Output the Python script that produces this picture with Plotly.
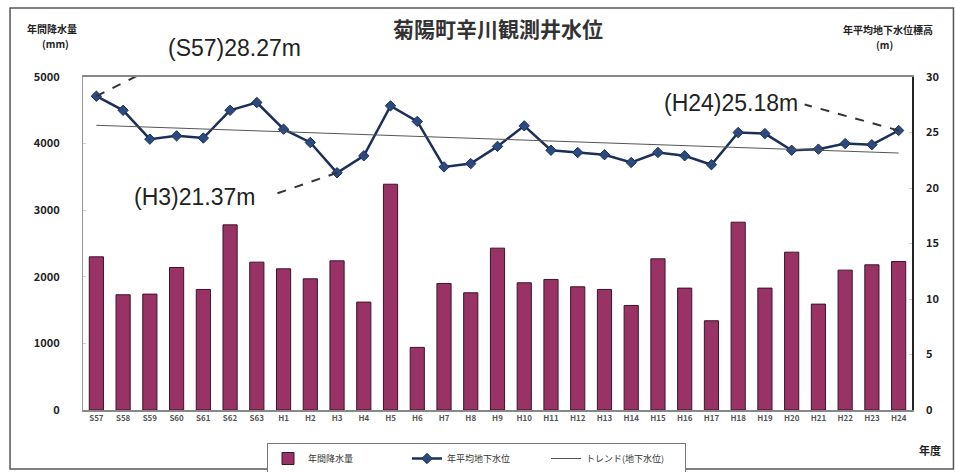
import plotly.graph_objects as go

categories = ["S57", "S58", "S59", "S60", "S61", "S62", "S63",
              "H1", "H2", "H3", "H4", "H5", "H6", "H7", "H8", "H9",
              "H10", "H11", "H12", "H13", "H14", "H15", "H16", "H17",
              "H18", "H19", "H20", "H21", "H22", "H23", "H24"]

rainfall_mm = [2300, 1730, 1740, 2140, 1810, 2780, 2220,
               2120, 1970, 2240, 1620, 3390, 940, 1900, 1760, 2430,
               1910, 1960, 1850, 1810, 1570, 2270, 1830, 1340,
               2820, 1830, 2370, 1590, 2100, 2180, 2230]

groundwater_m = [28.27, 27.0, 24.4, 24.7, 24.5, 27.0, 27.7,
                 25.3, 24.1, 21.37, 22.9, 27.4, 26.0, 21.9, 22.2, 23.75,
                 25.6, 23.4, 23.2, 23.0, 22.3, 23.2, 22.9, 22.1,
                 25.0, 24.9, 23.4, 23.5, 24.0, 23.9, 25.18]

trend_x = ["S57", "H24"]
trend_m = [25.65, 23.15]

left_ticks = [0, 1000, 2000, 3000, 4000, 5000]
right_ticks = [0, 5, 10, 15, 20, 25, 30]

callouts = [
    # category, value, label, text xshift, text yshift, anchor, line dx, line dy
    ("S57", 28.27, "(S57)28.27m", 70, 48, "left", 64, 32),
    ("H3", 21.37, "(H3)21.37m", -80, -24, "right", -67, -23),
    ("H24", 25.18, "(H24)25.18m", -99, 28, "right", -94, 26),
]

JP = "Noto Sans CJK JP"

fig = go.Figure()
fig.add_trace(go.Bar(
    x=categories, y=rainfall_mm, name="年間降水量",
    marker=dict(color="#993366", line=dict(color="#3a1428", width=1)),
    yaxis="y",
))
fig.add_trace(go.Scatter(
    x=categories, y=groundwater_m, name="年平均地下水位", mode="lines+markers",
    line=dict(color="#1c2f5a", width=2.5),
    marker=dict(symbol="diamond", size=8, color="#2a4a80", line=dict(color="#1c2f5a", width=1)),
    yaxis="y2",
))
fig.add_trace(go.Scatter(
    x=trend_x, y=trend_m, name="トレンド(地下水位)", mode="lines",
    line=dict(color="#555555", width=1),
    yaxis="y2",
))

shapes = [
    dict(type="rect", xref="paper", yref="paper", x0=-0.088, x1=1.05, y0=-0.177, y1=1.207,
         line=dict(color="#555555", width=1.5), layer="below"),
]
annotations = []
for cat, val, label, tx, ty, anchor, dx, dy in callouts:
    shapes.append(dict(
        type="line", xref="x", yref="y2",
        xsizemode="pixel", xanchor=cat, x0=0, x1=dx,
        ysizemode="pixel", yanchor=val, y0=0, y1=dy,
        line=dict(color="#333333", width=2, dash="dash"),
    ))
    annotations.append(dict(
        x=cat, y=val, xref="x", yref="y2", text=label, showarrow=False,
        xshift=tx, yshift=ty, xanchor=anchor, yanchor="middle",
        font=dict(family="Liberation Sans, Arial", size=23, color="#222222"),
    ))

def paper_x(px):
    return (px - 83) / 829

def paper_y(py):
    return (410 - py) / 333

title_font = dict(family=JP, size=10, color="#222222", weight="bold")
annotations += [
    dict(xref="paper", yref="paper", x=0.5, y=paper_y(28), text="菊陽町辛川観測井水位",
         showarrow=False, xanchor="center", yanchor="middle",
         font=dict(family=JP, size=21, color="#333333", weight="bold")),
    dict(xref="paper", yref="paper", x=paper_x(52), y=paper_y(28),
         text="年間降水量", showarrow=False, xanchor="center", yanchor="middle", font=title_font),
    dict(xref="paper", yref="paper", x=paper_x(55), y=paper_y(43),
         text="(mm)", showarrow=False, xanchor="center", yanchor="middle", font=title_font),
    dict(xref="paper", yref="paper", x=paper_x(888), y=paper_y(30),
         text="年平均地下水位標高", showarrow=False, xanchor="center", yanchor="middle", font=title_font),
    dict(xref="paper", yref="paper", x=paper_x(884), y=paper_y(45),
         text="(m)", showarrow=False, xanchor="center", yanchor="middle", font=title_font),
    dict(xref="paper", yref="paper", x=paper_x(930), y=paper_y(450),
         text="年度", showarrow=False, xanchor="center", yanchor="middle",
         font=dict(family=JP, size=11, color="#222222", weight="bold")),
]

fig.update_layout(
    width=955, height=472,
    margin=dict(l=83, r=43, t=77, b=62, autoexpand=False),
    paper_bgcolor="white", plot_bgcolor="white",
    bargap=0.47,
    showlegend=True,
    legend=dict(orientation="h", x=paper_x(267), y=paper_y(443),
                xanchor="left", yanchor="top",
                bordercolor="#777777", borderwidth=1, bgcolor="white",
                font=dict(family=JP, size=9, color="#333333"),
                entrywidth=94, entrywidthmode="pixels", tracegroupgap=0),
    xaxis=dict(
        type="category", categoryorder="array", categoryarray=categories,
        range=[-0.5, len(categories) - 0.5], autorange=False,
        showline=True, linecolor="#888888", linewidth=1.5, mirror=True,
        showgrid=False, ticks="",
        tickfont=dict(family=JP, size=8, color="#555555", weight="bold"),
        tickangle=0,
    ),
    yaxis=dict(
        range=[0, 5000], tickvals=left_ticks,
        showline=True, linecolor="#999999", linewidth=1,
        showgrid=False, zeroline=False, ticks="inside", ticklen=3, tickcolor="#cccccc",
        tickfont=dict(family=JP, size=11, color="#222222", weight="bold"),
        ticklabelstandoff=20,
    ),
    yaxis2=dict(
        range=[0, 30], tickvals=right_ticks, overlaying="y", side="right",
        showline=True, linecolor="#222222", linewidth=1.5,
        showgrid=False, zeroline=False, ticks="inside", ticklen=3, tickcolor="#cccccc",
        tickfont=dict(family=JP, size=11, color="#222222", weight="bold"),
        ticklabelstandoff=10,
    ),
    shapes=shapes,
    annotations=annotations,
)

fig.write_html("out.html")
